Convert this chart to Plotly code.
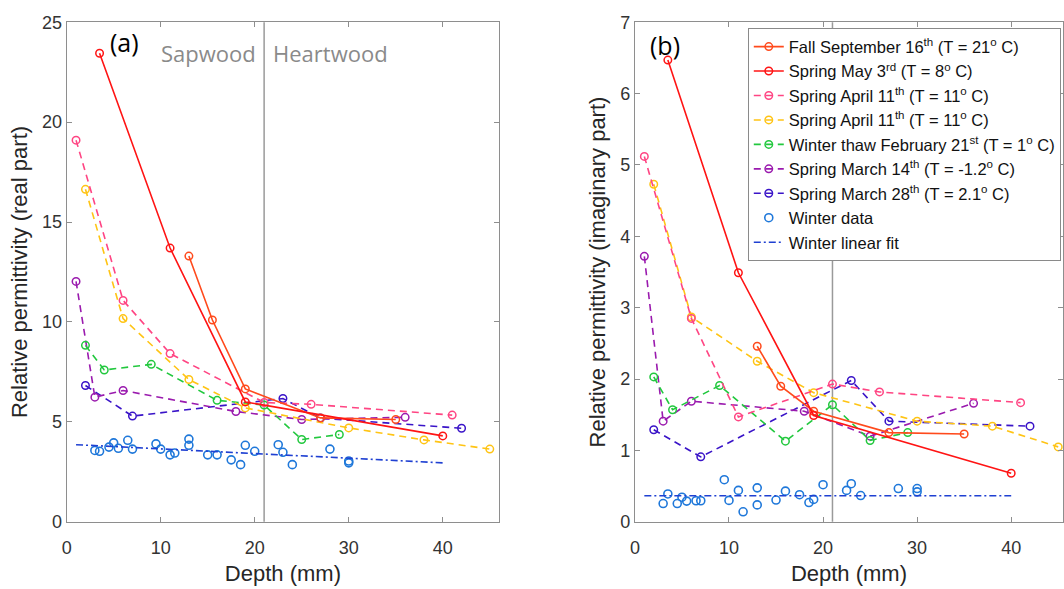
import plotly.graph_objects as go

# ---------------- data ----------------
fall_x = [13, 15.5, 19, 27, 35]
fall_re = [13.3, 10.1, 6.65, 5.2, 5.12]
fall_im = [2.46, 1.90, 1.55, 1.25, 1.23]

may_x = [3.5, 11, 19, 40]
may_re = [23.45, 13.7, 6.0, 4.3]
may_im = [6.47, 3.49, 1.49, 0.68]

aprA_x = [1, 6, 11, 21, 26, 41]
aprA_re = [19.1, 11.08, 8.42, 5.97, 5.88, 5.34]
aprA_im = [5.12, 2.85, 1.47, 1.93, 1.82, 1.67]

aprB_x = [2, 6, 13, 19, 30, 38, 45]
aprB_re = [16.64, 10.17, 7.12, 5.70, 4.70, 4.10, 3.64]
aprB_im = [4.73, 2.87, 2.25, 1.81, 1.41, 1.34, 1.05]

feb_x = [2, 4, 9, 16, 21, 25, 29]
feb_re = [8.83, 7.60, 7.88, 6.08, 5.84, 4.12, 4.37]
feb_im = [2.03, 1.57, 1.91, 1.13, 1.64, 1.14, 1.25]

mar14_x = [1, 3, 6, 18, 25, 36]
mar14_re = [12.03, 6.24, 6.57, 5.52, 5.12, 5.23]
mar14_im = [3.72, 1.41, 1.69, 1.55, 1.20, 1.66]

mar28_x = [2, 7, 23, 27, 42]
mar28_re = [6.82, 5.29, 6.17, 5.19, 4.68]
mar28_im = [1.29, 0.91, 1.98, 1.41, 1.34]

winter_x = [3, 3.5, 4.5, 5, 5.5, 6.5, 7, 9.5, 10, 11, 11.5, 13, 13, 15, 16,
            17.5, 18.5, 19, 20, 22.5, 23, 24, 28, 30, 30]
winter_re = [3.57, 3.53, 3.74, 3.95, 3.68, 4.08, 3.64, 3.90, 3.64, 3.35, 3.44,
             3.83, 4.14, 3.35, 3.35, 3.10, 2.86, 3.83, 3.53, 3.86, 3.48, 2.86,
             3.64, 3.04, 2.95]
winter_im = [0.256, 0.39, 0.256, 0.345, 0.29, 0.295, 0.295, 0.59, 0.30, 0.44,
             0.14, 0.476, 0.237, 0.305, 0.43, 0.38, 0.27, 0.314, 0.52, 0.44,
             0.534, 0.368, 0.466, 0.466, 0.42]

fit_x = [1, 40]
fit_re = [3.86, 2.95]
fit_im = [0.365, 0.365]

names = [
    "Fall September 16<sup>th</sup> (T = 21<sup>o</sup> C)",
    "Spring May 3<sup>rd</sup> (T = 8<sup>o</sup> C)",
    "Spring April 11<sup>th</sup> (T = 11<sup>o</sup> C)",
    "Spring April 11<sup>th</sup> (T = 11<sup>o</sup> C)",
    "Winter thaw February 21<sup>st</sup> (T = 1<sup>o</sup> C)",
    "Spring March 14<sup>th</sup> (T = -1.2<sup>o</sup> C)",
    "Spring March 28<sup>th</sup> (T = 2.1<sup>o</sup> C)",
    "Winter data",
    "Winter linear fit",
]

# ---------------- styling ----------------
colors = ["#FF4A1C", "#FF1414", "#FF4583", "#FFC414", "#22C83E",
          "#9A1AAE", "#3A14C8", "#1F78DA", "#1F40D2"]
DASH = "7px,5px"

series = [
    (fall_x, fall_re, fall_im, "solid"),
    (may_x, may_re, may_im, "solid"),
    (aprA_x, aprA_re, aprA_im, DASH),
    (aprB_x, aprB_re, aprB_im, DASH),
    (feb_x, feb_re, feb_im, DASH),
    (mar14_x, mar14_re, mar14_im, DASH),
    (mar28_x, mar28_re, mar28_im, DASH),
]

fig = go.Figure()

order = [6, 5, 4, 3, 2, 0, 1]
for panel, (xa, ya) in enumerate([("x", "y"), ("x2", "y2")]):
    wy = winter_re if panel == 0 else winter_im
    fy = fit_re if panel == 0 else fit_im
    fig.add_trace(go.Scatter(
        x=winter_x, y=wy, mode="markers", name=names[7], xaxis=xa, yaxis=ya,
        marker=dict(symbol="circle-open", size=8, color=colors[7],
                    line=dict(width=1.6, color=colors[7])),
        showlegend=(panel == 1), legendrank=8))
    fig.add_trace(go.Scatter(
        x=fit_x, y=fy, mode="lines", name=names[8], xaxis=xa, yaxis=ya,
        line=dict(color=colors[8], width=1.6, dash="7px,3px,2px,3px"),
        showlegend=(panel == 1), legendrank=9))

for panel, (xa, ya) in enumerate([("x", "y"), ("x2", "y2")]):
    for i in order:
        sx, sre, sim, dash = series[i]
        sy = sre if panel == 0 else sim
        fig.add_trace(go.Scatter(
            x=sx, y=sy, mode="lines+markers", name=names[i],
            xaxis=xa, yaxis=ya,
            line=dict(color=colors[i], width=1.6, dash=dash),
            marker=dict(symbol="circle-open", size=7.5, color=colors[i],
                        line=dict(width=1.5, color=colors[i])),
            showlegend=(panel == 1), legendrank=i + 1))

W, H = 1064, 589
axis_gray = "#8E8E8E"
tick_col = "#333333"
font_main = "Liberation Sans, Arial, sans-serif"

common_x = dict(showline=True, linecolor=axis_gray, linewidth=1.2,
                mirror="ticks", ticks="inside", ticklen=5, tickcolor=axis_gray,
                showgrid=False, zeroline=False, dtick=10, tick0=0,
                ticklabelstandoff=9,
                tickfont=dict(size=18, color=tick_col, family=font_main),
                title=dict(text="Depth (mm)", standoff=9,
                           font=dict(size=22, color="#262626", family=font_main)))
common_y = dict(showline=True, linecolor=axis_gray, linewidth=1.2,
                mirror="ticks", ticks="inside", ticklen=5, tickcolor=axis_gray,
                showgrid=False, zeroline=False,
                tickfont=dict(size=18, color=tick_col, family=font_main))

ydom = [1 - 529.8 / H, 1 - 12.7 / H]
fig.update_layout(
    width=W, height=H,
    margin=dict(l=0, r=0, t=0, b=0),
    paper_bgcolor="white", plot_bgcolor="white",
    xaxis=dict(common_x, domain=[62 / W, 497 / W], range=[0, 46], anchor="y"),
    yaxis=dict(common_y, domain=ydom, range=[0, 25], dtick=5, anchor="x",
               title=dict(text="Relative permittivity (real part)", standoff=8,
                          font=dict(size=22, color="#262626", family=font_main))),
    xaxis2=dict(common_x, domain=[633.5 / W, 1.0], range=[0, (1064 - 633.5) / 9.46],
                anchor="y2"),
    yaxis2=dict(common_y, domain=ydom, range=[0, 7], dtick=1, anchor="x2",
                title=dict(text="Relative permittivity (imaginary part)", standoff=8,
                           font=dict(size=22, color="#262626", family=font_main))),
    legend=dict(x=747 / W, y=1 - 19 / H, xanchor="left", yanchor="top",
                bgcolor="white", bordercolor="#8A8A8A", borderwidth=1,
                font=dict(size=16.5, color="#111111", family=font_main),
                tracegroupgap=0, itemwidth=30),
    showlegend=True,
)

# Sapwood / Heartwood boundary
for xr, yr in [("x", "y domain"), ("x2", "y2 domain")]:
    fig.add_shape(type="line", xref=xr, yref=yr, x0=21, x1=21, y0=0, y1=1,
                  line=dict(color="#9A9A9A", width=1.5), layer="below")

label_font = "Open Sans, Noto Sans, sans-serif"
fig.add_annotation(x=20.3, y=23.45, xref="x", yref="y", text="Sapwood",
                   showarrow=False, xanchor="right", yanchor="middle",
                   font=dict(size=22, color="#8A8A8A", family=label_font))
fig.add_annotation(x=21.7, y=23.45, xref="x", yref="y", text="Heartwood",
                   showarrow=False, xanchor="left", yanchor="middle",
                   font=dict(size=22, color="#8A8A8A", family=label_font))
fig.add_annotation(x=6.15, y=24.0, xref="x", yref="y", text="(a)",
                   showarrow=False, xanchor="center", yanchor="middle",
                   font=dict(size=25, color="black", family=label_font))
fig.add_annotation(x=3.2, y=6.68, xref="x2", yref="y2", text="(b)",
                   showarrow=False, xanchor="center", yanchor="middle",
                   font=dict(size=25, color="black", family=label_font))

fig.write_html("out.html",
               config={"displayModeBar": False},
               post_script="document.body.style.margin='0px';"
                           "document.body.style.overflow='hidden';")
